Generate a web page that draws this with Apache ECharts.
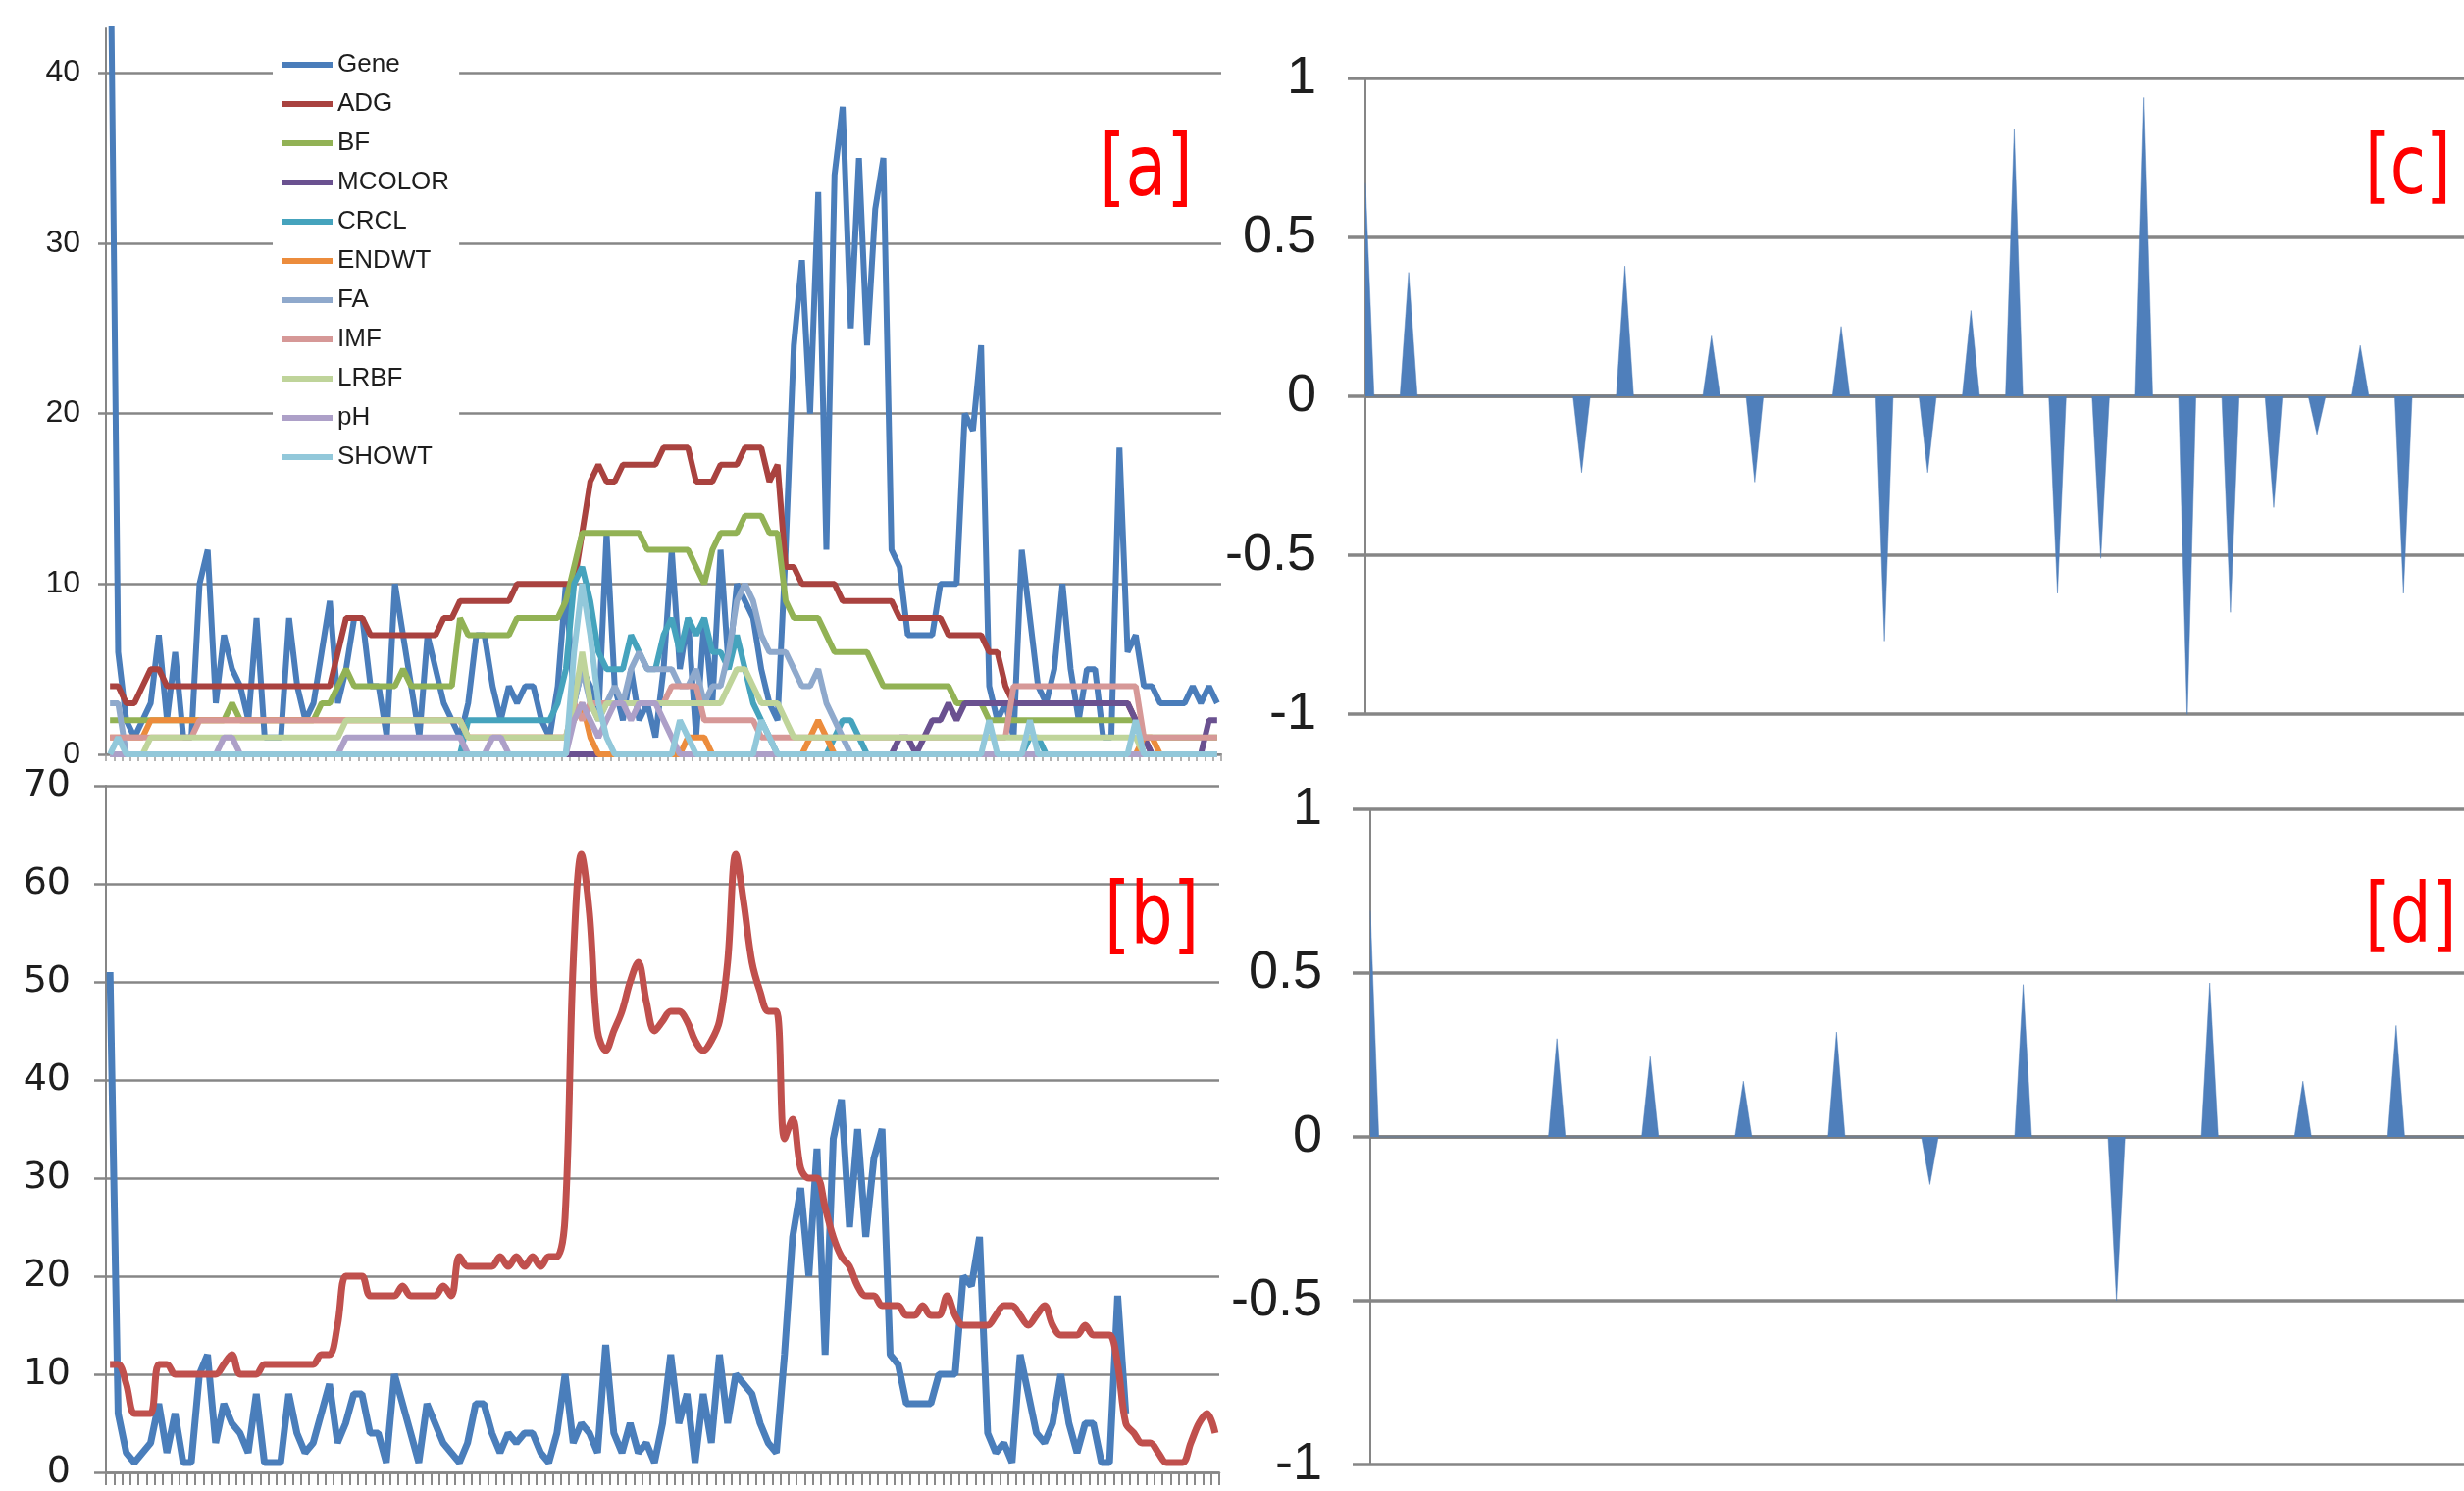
<!DOCTYPE html>
<html><head><meta charset="utf-8">
<script src="https://cdn.jsdelivr.net/npm/echarts@6/dist/echarts.min.js"></script>
<style>html,body{margin:0;padding:0;background:#fff}#c{width:2512px;height:1520px}</style>
</head><body><div id="c"></div>
<script>
// ---------- DATA ----------
const traitNames = ['Gene','ADG','BF','MCOLOR','CRCL','ENDWT','FA','IMF','LRBF','pH','SHOWT'];
const gene = [51,6,2,1,2,3,7,2,6,1, 1,10,12,3,7,5,4,2,8,1, 1,1,8,4,2,3,6,9,3,5, 8,8,4,4,1,10,7,4,1,7,
  5,3,2,1,3,7,7,4,2,4, 3,4,4,2,1,4,10,3,5,4, 2,13,4,2,5,2,3,1,5,12, 5,8,1,8,3,12,5,10,9,8,
  5,3,2,12,24,29,20,33,12,34, 38,25,35,24,32,35,12,11,7,7, 7,7,10,10,10,20,19,24,4,2,
  3,1,12,8,4,3,5,10,5,2, 5,5,1,1,18,6,7,4,4,3, 3,3,3,4,3,4,3];
const adg = [4,4,3,3,4,5,5,4,4,4, 4,4,4,4,4,4,4,4,4,4, 4,4,4,4,4,4,4,4,6,8, 8,8,7,7,7,7,7,7,7,7,
  7,8,8,9,9,9,9,9,9,9, 10,10,10,10,10,10,10,10,13,16, 17,16,16,17,17,17,17,17,18,18, 18,18,16,16,16,17,17,17,18,18,
  18,16,17,11,11,10,10,10,10,10, 9,9,9,9,9,9,9,8,8,8, 8,8,8,7,7,7,7,7,6,6,
  4,3,3,3,3,3,3,3,3,3, 3,3,3,3,3,3,2,1,0,0, 0,0,0,0,0,0,0];
const bf = [2,2,2,2,2,2,2,2,2,2, 2,2,2,2,2,3,2,2,2,2, 2,2,2,2,2,2,3,3,4,5, 4,4,4,4,4,4,5,4,4,4,
  4,4,4,8,7,7,7,7,7,7, 8,8,8,8,8,8,9,11,13,13, 13,13,13,13,13,13,12,12,12,12, 12,12,11,10,12,13,13,13,14,14,
  14,13,13,9,8,8,8,8,7,6, 6,6,6,6,5,4,4,4,4,4, 4,4,4,4,3,3,3,3,2,2,
  2,2,2,2,2,2,2,2,2,2, 2,2,2,2,2,2,2,1,1,1, 1,1,1,1,1,1,1];
const mcolor = [0,0,0,0,0,0,0,0,0,0, 0,0,0,0,0,0,0,0,0,0, 0,0,0,0,0,0,0,0,0,0, 0,0,0,0,0,0,0,0,0,0,
  0,0,0,0,0,0,0,0,0,0, 0,0,0,0,0,0,0,0,0,0, 0,0,0,0,0,0,0,0,0,0, 0,0,0,0,0,0,0,0,0,0,
  0,0,0,0,0,0,0,0,0,0, 0,0,0,0,0,0,0,1,1,0, 1,2,2,3,2,3,3,3,3,3,
  3,3,3,3,3,3,3,3,3,3, 3,3,3,3,3,3,2,1,0,0, 0,0,0,0,0,2,2];
const crcl = [0,0,0,0,0,0,0,0,0,0, 0,0,0,0,0,0,0,0,0,0, 0,0,0,0,0,0,0,0,0,0, 0,0,0,0,0,0,0,0,0,0,
  0,0,0,0,2,2,2,2,2,2, 2,2,2,2,2,3,5,10,11,9, 6,5,5,5,7,6,5,5,7,8, 6,8,7,8,6,6,5,7,5,3,
  2,1,0,0,0,0,0,0,0,1, 2,2,1,0,0,0,0,0,0,0, 0,0,0,0,0,0,0,0,0,0,
  0,0,0,1,1,0,0,0,0,0, 0,0,0,0,0,0,0,0,0,0, 0,0,0,0,0,0,0];
const endwt = [1,1,1,1,1,2,2,2,2,2, 2,2,2,2,2,2,2,2,2,2, 2,2,2,2,2,2,2,2,2,2, 2,2,2,2,2,2,2,2,2,2,
  2,2,2,2,1,1,1,1,1,1, 1,1,1,1,1,1,1,2,3,1, 0,0,0,0,0,0,0,0,0,0, 0,1,1,1,0,0,0,0,0,0,
  0,0,0,0,0,0,1,2,1,0, 0,0,0,0,0,0,0,0,0,0, 0,0,0,0,0,0,0,0,0,0,
  0,0,0,0,0,0,0,0,0,0, 0,0,0,0,0,0,0,1,1,0, 0,0,0,0,0,0,0];
const fa = [3,3,0,0,0,0,0,0,0,0, 0,0,0,0,0,0,0,0,0,0, 0,0,0,0,0,0,0,0,0,0, 0,0,0,0,0,0,0,0,0,0,
  0,0,0,0,0,0,0,0,0,0, 0,0,0,0,0,0,0,3,5,3, 2,3,4,3,5,6,5,5,5,5, 4,4,5,3,4,4,6,9,10,9,
  7,6,6,6,5,4,4,5,3,2, 1,0,0,0,0,0,0,0,0,0, 0,0,0,0,0,0,0,0,0,0,
  0,0,0,0,0,0,0,0,0,0, 0,0,0,0,0,0,0,0,0,0, 0,0,0,0,0,0,0];
const imf = [1,1,1,1,1,1,1,1,1,1, 1,2,2,2,2,2,2,2,2,2, 2,2,2,2,2,2,2,2,2,2, 2,2,2,2,2,2,2,2,2,2,
  2,2,2,2,1,1,1,1,1,1, 1,1,1,1,1,1,1,3,2,3, 3,3,3,3,3,3,3,3,3,4, 4,4,4,2,2,2,2,2,2,2,
  1,1,1,1,1,1,1,1,1,1, 1,1,1,1,1,1,1,1,1,1, 1,1,1,1,1,1,1,1,1,1,
  1,4,4,4,4,4,4,4,4,4, 4,4,4,4,4,4,4,1,1,1, 1,1,1,1,1,1,1];
const lrbf = [0,0,0,0,0,1,1,1,1,1, 1,1,1,1,1,1,1,1,1,1, 1,1,1,1,1,1,1,1,1,2, 2,2,2,2,2,2,2,2,2,2,
  2,2,2,2,1,1,1,1,1,1, 1,1,1,1,1,1,1,3,6,3, 2,3,3,3,3,3,3,3,3,3, 3,3,3,3,3,3,4,5,5,4,
  3,3,3,2,1,1,1,1,1,1, 1,1,1,1,1,1,1,1,1,1, 1,1,1,1,1,1,1,1,1,1,
  1,1,1,1,1,1,1,1,1,1, 1,1,1,1,1,1,1,0,0,0, 0,0,0,0,0,0,0];
const ph = [0,0,0,0,0,0,0,0,0,0, 0,0,0,0,1,1,0,0,0,0, 0,0,0,0,0,0,0,0,0,1, 1,1,1,1,1,1,1,1,1,1,
  1,1,1,1,0,0,0,1,1,0, 0,0,0,0,0,0,0,2,3,2, 1,2,3,3,2,3,3,3,2,1, 0,0,0,0,0,0,0,0,0,0,
  0,0,0,0,0,0,0,0,0,0, 0,0,0,0,0,0,0,0,0,0, 0,0,0,0,0,0,0,0,0,0,
  0,0,0,0,0,0,0,0,0,0, 0,0,0,0,0,0,0,0,0,0, 0,0,0,0,0,0,0];
const showt = [0,1,0,0,0,0,0,0,0,0, 0,0,0,0,0,0,0,0,0,0, 0,0,0,0,0,0,0,0,0,0, 0,0,0,0,0,0,0,0,0,0,
  0,0,0,0,0,0,0,0,0,0, 0,0,0,0,0,0,0,6,10,7, 3,1,0,0,0,0,0,0,0,0, 2,1,0,0,0,0,0,0,0,0,
  2,1,0,0,0,0,0,0,0,0, 0,0,0,0,0,0,0,0,0,0, 0,0,0,0,0,0,0,0,2,0,
  0,0,0,2,0,0,0,0,0,0, 0,0,0,0,0,0,2,0,0,0, 0,0,0,0,0,0,0];
// panel [b]
const geneB = gene.slice(0, 126);
const total = [11,11,9,6,6,6,11,11,10,10, 10,10,10,10,11,12,10,10,10,11, 11,11,11,11,11,11,12,12,15,20,
  20,20,18,18,18,18,19,18,18,18, 18,19,18,22,21,21,21,21,22,21, 22,21,22,21,22,22,26,52,63,57,
  45,43,45,47,50,52,48,45,46,47, 47,46,44,43,44,46,52,63,58,52, 49,47,47,34,36,31,30,30,27,24,
  22,21,19,18,18,17,17,17,16,16, 17,16,16,18,16,15,15,15,15,16, 17,17,16,15,16,17,15,14,14,14,
  15,14,14,14,11,5,4,3,3,2, 1,1,1,3,5,6,4];
// panel [c]
const corrC = [
  0.67,0,0,0,0, 0.39,0,0,0,0, 0,0,0,0,0, 0,0,0,0,0, 0,0,0,0,0,
  -0.24,0,0,0,0, 0.41,0,0,0,0, 0,0,0,0,0, 0.19,0,0,0,0, -0.27,0,0,0,0,
  0,0,0,0,0, 0.22,0,0,0,0, -0.77,0,0,0,0, -0.24,0,0,0,0, 0.27,0,0,0,0,
  0.84,0,0,0,0, -0.62,0,0,0,0, -0.51,0,0,0,0, 0.94,0,0,0,0, -1.02,0,0,0,0,
  -0.68,0,0,0,0, -0.35,0,0,0,0, -0.12,0,0,0,0, 0.16,0,0,0,0, -0.62,0,0,0,0,
  0,0,0];
// panel [d]
const corrD = [
  0.69,0,0,0,0,0,0,0,0,0,0,
  0,0,0,0,0,0,0,0,0,0,0,
  0.30,0,0,0,0,0,0,0,0,0,0,
  0.245,0,0,0,0,0,0,0,0,0,0,
  0.17,0,0,0,0,0,0,0,0,0,0,
  0.32,0,0,0,0,0,0,0,0,0,0,
  -0.145,0,0,0,0,0,0,0,0,0,0,
  0.465,0,0,0,0,0,0,0,0,0,0,
  -0.5,0,0,0,0,0,0,0,0,0,0,
  0.47,0,0,0,0,0,0,0,0,0,0,
  0.17,0,0,0,0,0,0,0,0,0,0,
  0.34,0,0,0,0,0,0,0,0];
const yTicksAB = {a:{min:0,max:42.6,interval:10}, b:{min:0,max:70,interval:10}};
const panelLabels = ['[a]','[b]','[c]','[d]'];

// ---------- CHART ----------
const catsAB = gene.map((_, i) => String(i + 1));
const catsC = corrC.map((_, i) => String(i + 1));
const catsD = corrD.map((_, i) => String(i + 1));
const traitData = [gene, adg, bf, mcolor, crcl, endwt, fa, imf, lrbf, ph, showt];
const traitColors = ['#4a7dba','#a9423f','#92b255','#6a5190','#45a3bd','#ec8c3c','#8fa9cc','#d69897','#bfd49a','#ada0c8','#92c8da'];

const SANS = "'Liberation Sans',Arial,sans-serif";
const GRID = '#868686';

const chart = echarts.init(document.getElementById('c'), null, {renderer:'canvas'});

function yAxisCfg(grid, opts, tickLen, margin, fontSize, fontFamily, lw) {
  return Object.assign({
    gridIndex: grid, type: 'value',
    axisLine: {show: true, lineStyle: {color: GRID, width: 2}},
    axisTick: {show: true, length: tickLen, lineStyle: {color: GRID, width: lw}},
    splitLine: {show: true, showMaxLine: grid !== 0, lineStyle: {color: GRID, width: lw}},
    axisLabel: {showMaxLabel: grid !== 0, margin: margin, fontSize: fontSize, fontFamily: fontFamily, color: '#1e1e1e'}
  }, opts);
}

const series = [];
traitNames.forEach((n, k) => {
  series.push({name: n, type: 'line', xAxisIndex: 0, yAxisIndex: 0, data: traitData[k],
    showSymbol: false, symbol: 'none', color: traitColors[k], lineStyle: {width: 6, color: traitColors[k]}});
});
series.push({name: 'GeneB', type: 'line', xAxisIndex: 1, yAxisIndex: 1, data: geneB, symbol: 'none',
  color: '#4a7ebb', lineStyle: {width: 7, color: '#4a7ebb'}});
series.push({name: 'Total', type: 'line', xAxisIndex: 1, yAxisIndex: 1, data: total, symbol: 'none', smooth: 0.35,
  color: '#c0504d', lineStyle: {width: 7, color: '#c0504d'}});
series.push({name: 'CorrC', type: 'line', xAxisIndex: 2, yAxisIndex: 2, data: corrC, symbol: 'none',
  color: '#4f7fbb', lineStyle: {width: 0.5, color: '#4f7fbb'}, areaStyle: {color: '#4f7fbb', opacity: 1}});
series.push({name: 'CorrD', type: 'line', xAxisIndex: 3, yAxisIndex: 3, data: corrD, symbol: 'none',
  color: '#4f7fbb', lineStyle: {width: 0.5, color: '#4f7fbb'}, areaStyle: {color: '#4f7fbb', opacity: 1}});

const option = {
  animation: false,
  backgroundColor: '#ffffff',
  grid: [
    {left: 108, top: 29, width: 1137, height: 740},
    {left: 108, top: 801, width: 1135, height: 705},
    {left: 1392, top: 80, width: 1133, height: 648},
    {left: 1397, top: 825, width: 1124, height: 681}
  ],
  xAxis: [
    {gridIndex: 0, type: 'category', data: catsAB, boundaryGap: true,
      axisLine: {lineStyle: {color: GRID, width: 2}},
      axisTick: {show: true, interval: 0, length: 7, lineStyle: {color: '#9a9a9a', width: 1.5}},
      axisLabel: {show: false}, splitLine: {show: false}},
    {gridIndex: 1, type: 'category', data: catsAB, boundaryGap: true,
      axisLine: {lineStyle: {color: GRID, width: 2.5}},
      axisTick: {show: true, interval: 0, length: 13, lineStyle: {color: '#8a8a8a', width: 2}},
      axisLabel: {show: false}, splitLine: {show: false}},
    {gridIndex: 2, type: 'category', data: catsC, boundaryGap: false,
      axisLine: {onZero: true, lineStyle: {color: '#7f7f7f', width: 3.5}},
      axisTick: {show: false}, axisLabel: {show: false}},
    {gridIndex: 3, type: 'category', data: catsD, boundaryGap: false,
      axisLine: {onZero: true, lineStyle: {color: '#7f7f7f', width: 3.5}},
      axisTick: {show: false}, axisLabel: {show: false}}
  ],
  yAxis: [
    yAxisCfg(0, yTicksAB.a, 8, 26, 32, SANS, 2.5),
    yAxisCfg(1, yTicksAB.b, 12, 36, 38, "'DejaVu Sans',sans-serif", 2.5),
    yAxisCfg(2, {min: -1, max: 1, interval: 0.5}, 18, 50, 54, SANS, 3.5),
    yAxisCfg(3, {min: -1, max: 1, interval: 0.5}, 18, 49, 54, SANS, 3.5)
  ],
  legend: {
    data: traitNames, orient: 'vertical', left: 278, top: 39,
    backgroundColor: '#ffffff', padding: [12, 10, 12, 10],
    icon: 'rect', itemWidth: 51, itemHeight: 6, itemGap: 10, selectedMode: false,
    textStyle: {fontFamily: SANS, fontSize: 26, color: '#1e1e1e', lineHeight: 30}
  },
  graphic: [
    {type: 'text', x: 1121, y: 176, scaleY: 1.28, z: 100, style: {text: panelLabels[0], fill: '#ff0000', fontSize: 68, fontFamily: 'DejaVu Sans', verticalAlign: 'middle'}},
    {type: 'text', x: 1126, y: 938, scaleY: 1.28, z: 100, style: {text: panelLabels[1], fill: '#ff0000', fontSize: 68, fontFamily: 'DejaVu Sans', verticalAlign: 'middle'}},
    {type: 'text', x: 2411, y: 175, scaleY: 1.28, z: 100, style: {text: panelLabels[2], fill: '#ff0000', fontSize: 66, fontFamily: 'DejaVu Sans', verticalAlign: 'middle'}},
    {type: 'text', x: 2411, y: 938, scaleY: 1.28, z: 100, style: {text: panelLabels[3], fill: '#ff0000', fontSize: 66, fontFamily: 'DejaVu Sans', verticalAlign: 'middle'}}
  ],
  series: series
};
chart.setOption(option);
</script></body></html>
